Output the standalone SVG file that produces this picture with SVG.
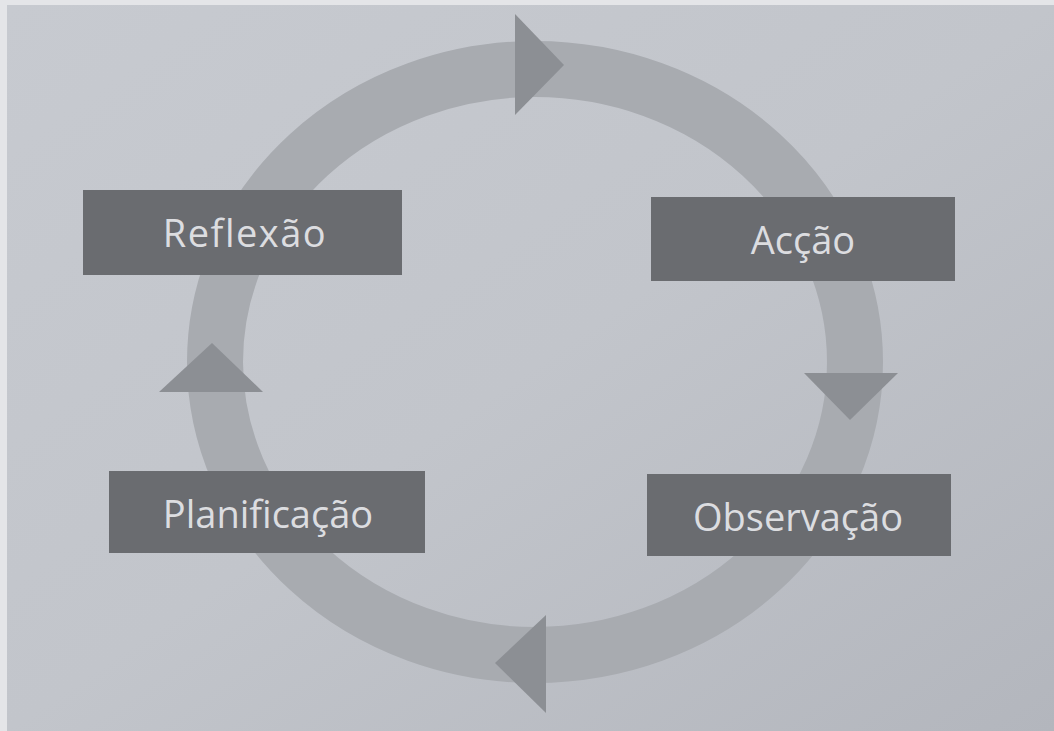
<svg xmlns="http://www.w3.org/2000/svg" width="1054" height="731" viewBox="0 0 1054 731">
<defs>
<linearGradient id="bg" x1="0" y1="0" x2="1" y2="1">
<stop offset="0" stop-color="#c7cad0"/>
<stop offset="0.5" stop-color="#c2c5cb"/>
<stop offset="1" stop-color="#b3b6bd"/>
</linearGradient>
</defs>
<style>
.ring{fill:none;stroke:#a8abb0;stroke-width:56}
.head{fill:#8c8f94}
.box{fill:#6a6c70}
.lbl{fill:#dcdde0;font-family:"Open Sans","Noto Sans",sans-serif;font-size:38px;text-anchor:middle}
</style>
<rect x="0" y="0" width="1054" height="731" fill="#e4e5e8"/>
<rect x="7" y="5" width="1047" height="726" fill="url(#bg)"/>
<g id="connectors">
<ellipse class="ring" cx="535" cy="362" rx="320" ry="293"/>
<polygon class="head" points="515,14 515,115 564,65"/>
<polygon class="head" points="804,373 898,373 850,420"/>
<polygon class="head" points="546,615 546,713 495,663"/>
<polygon class="head" points="159,392 263,392 212,343"/>
</g>
<g id="reflexao">
<rect class="box" x="83" y="190" width="319" height="85"/>
<text class="lbl" x="245" y="247" letter-spacing="1.5">Reflexão</text>
</g>
<g id="accao">
<rect class="box" x="651" y="197" width="304" height="84"/>
<text class="lbl" x="803" y="254">Acção</text>
</g>
<g id="planificacao">
<rect class="box" x="109" y="471" width="316" height="82"/>
<text class="lbl" x="268" y="528">Planificação</text>
</g>
<g id="observacao">
<rect class="box" x="647" y="474" width="304" height="82"/>
<text class="lbl" x="798" y="531">Observação</text>
</g>
</svg>
